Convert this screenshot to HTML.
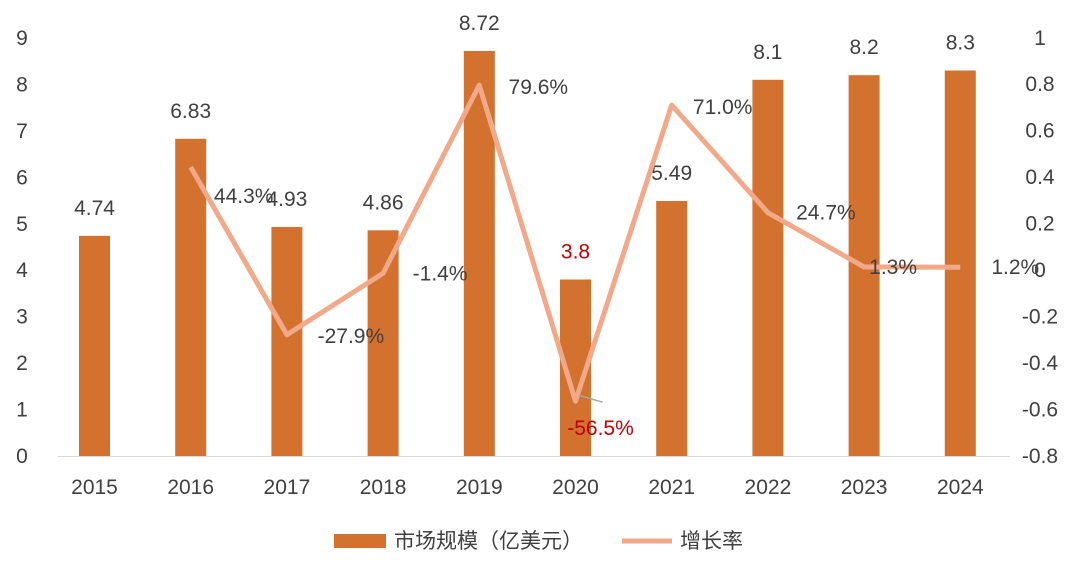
<!DOCTYPE html>
<html><head><meta charset="utf-8">
<style>
body{margin:0;background:#fff;}
svg{display:block;font-family:"Liberation Sans","Noto Sans CJK SC",sans-serif;}
</style></head>
<body>
<svg id="chart" width="1080" height="570"></svg>
<script>
const years=['2015','2016','2017','2018','2019','2020','2021','2022','2023','2024'];
const sizes=[4.74,6.83,4.93,4.86,8.72,3.8,5.49,8.1,8.2,8.3];
const rates=[null,0.443,-0.279,-0.014,0.796,-0.565,0.710,0.247,0.013,0.012];
const rateLabels=['','44.3%','-27.9%','-1.4%','79.6%','-56.5%','71.0%','24.7%','1.3%','1.2%'];
const leftTicks=[0,1,2,3,4,5,6,7,8,9];
const rightTicks=[1,0.8,0.6,0.4,0.2,0,-0.2,-0.4,-0.6,-0.8];
const rightTickLabels=['1','0.8','0.6','0.4','0.2','0','-0.2','-0.4','-0.6','-0.8'];
const NS='http://www.w3.org/2000/svg';
const svg=document.getElementById('chart');
const x=i=>94.5+i*96.2;
const yL=v=>456-v*(418/9);
const yR=v=>270-v*232.2;
function mk(t,a,p){const e=document.createElementNS(NS,t);for(const k in a)e.setAttribute(k,a[k]);(p||svg).appendChild(e);return e;}
function txt(s,xx,yy,o){const e=mk('text',Object.assign({x:xx,y:yy,'font-size':21,fill:'#404040','text-anchor':'middle'},o||{}));e.textContent=s;return e;}
leftTicks.forEach(v=>{const t=txt(String(v),22,yL(v)+7);

});
rightTicks.forEach((v,i)=>{const t=txt(rightTickLabels[i],1040,yR(v)+7);

});
const ax=mk('line',{x1:58,x2:1010,y1:456.5,y2:456.5,stroke:'#d9d9d9','stroke-width':1});


years.forEach((y,i)=>{
const b=mk('rect',{x:x(i)-15.5,y:yL(sizes[i]),width:31,height:456-yL(sizes[i]),fill:'#D2722E'});


const t=txt(String(y),x(i),494);


const red=y==='2020';
const v=txt(String(sizes[i]),x(i),yL(sizes[i])-21,{fill:red?'#C00000':'#404040'});


});
let d='';
rates.forEach((r,i)=>{if(r===null)return;d+=(d?'L':'M')+x(i)+','+yR(r);});
const ln=mk('path',{d:d,fill:'none',stroke:'#F1A98A','stroke-width':5,'stroke-linejoin':'round'});


const lead=mk('line',{x1:x(5)+3,y1:yR(rates[5])-6,x2:x(5)+27,y2:yR(rates[5])+1,stroke:'#a6a6a6','stroke-width':1.5});


const offs=[[0,0],[53,36],[64,8],[57,7],[59,9],[25,34],[51,9],[58,7],[29,7],[55,7]];
rates.forEach((r,i)=>{if(r===null)return;
const t=txt(rateLabels[i],x(i)+offs[i][0],yR(r)+offs[i][1],{fill:i===5?'#C00000':'#404040'});

});
const lg=mk('g',{});


const lr=mk('rect',{x:334,y:534,width:52,height:14,fill:'#D2722E'},lg);


const lt1=txt('市场规模（亿美元）',394,548,{'text-anchor':'start'});lg.appendChild(lt1);


const ll=mk('line',{x1:622,x2:672,y1:541,y2:541,stroke:'#F1A98A','stroke-width':5},lg);


const lt2=txt('增长率',680,548,{'text-anchor':'start'});lg.appendChild(lt2);


</script>
</body></html>
